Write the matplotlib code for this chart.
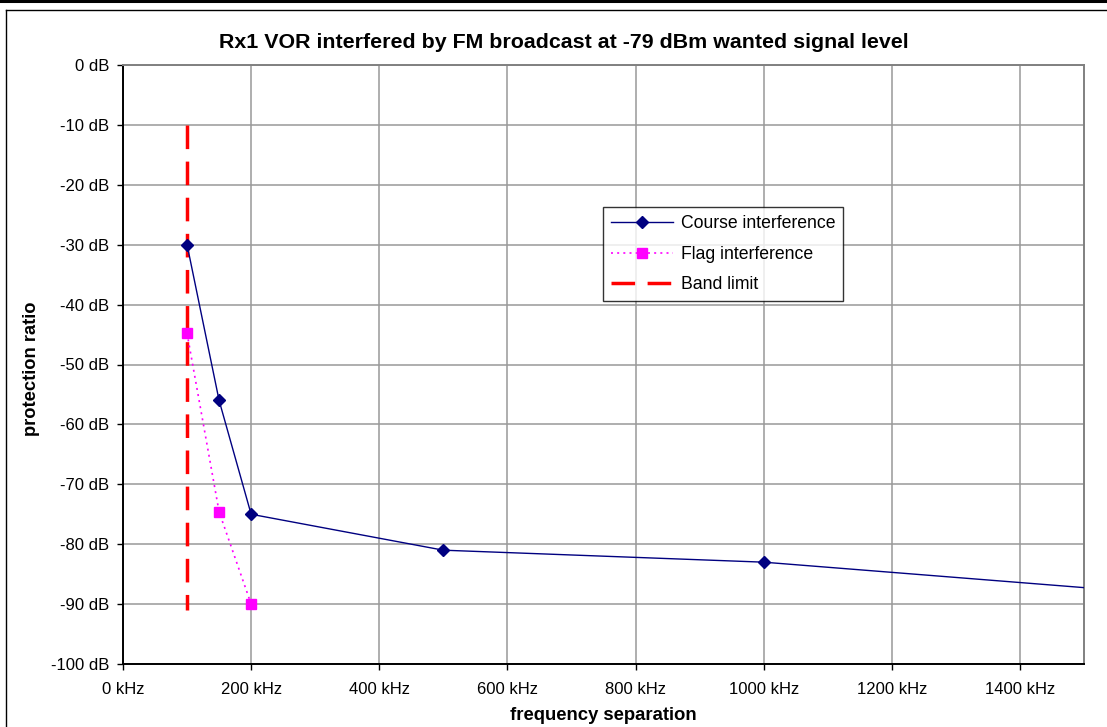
import matplotlib
matplotlib.use("Agg")
import matplotlib.pyplot as plt
from matplotlib.lines import Line2D

plt.rcParams['font.family'] = ['Liberation Sans', 'DejaVu Sans']

title = "Rx1 VOR interfered by FM broadcast at -79 dBm wanted signal level"
xlabel = "frequency separation"
ylabel = "protection ratio"

course_x = [100, 150, 200, 500, 1000, 2000]
course_y = [-30, -56, -75, -81, -83, -91.5]
flag_x = [100, 150, 200]
flag_y = [-44.8, -74.6, -90]
band_x = [100, 100]
band_y = [-10, -91]

x_ticks = [0, 200, 400, 600, 800, 1000, 1200, 1400]
x_ticklabels = ["0 kHz", "200 kHz", "400 kHz", "600 kHz", "800 kHz", "1000 kHz", "1200 kHz", "1400 kHz"]
y_ticks = [0, -10, -20, -30, -40, -50, -60, -70, -80, -90, -100]
y_ticklabels = ["0 dB", "-10 dB", "-20 dB", "-30 dB", "-40 dB", "-50 dB", "-60 dB", "-70 dB", "-80 dB", "-90 dB", "-100 dB"]

W, H = 1107, 727
fig = plt.figure(figsize=(W / 100, H / 100), dpi=100)
fig.patch.set_facecolor('white')

# outer frame decorations
fig.add_artist(Line2D([0, 1], [1 - 1.2 / H, 1 - 1.2 / H], color='black', lw=2.2, transform=fig.transFigure))
fig.add_artist(Line2D([5.5 / W, 1], [1 - 9.5 / H, 1 - 9.5 / H], color='black', lw=1.0, transform=fig.transFigure))
fig.add_artist(Line2D([5.5 / W, 5.5 / W], [0, 1 - 9.5 / H], color='black', lw=1.0, transform=fig.transFigure))

ax = fig.add_axes([123 / W, (H - 664) / H, (1084 - 123) / W, (664 - 65) / H])
ax.set_xlim(0, 1500)
ax.set_ylim(-100, 0)

ax.plot(band_x, band_y, color='#ff0000', lw=2.5, dashes=(6.8, 3.6), zorder=3, label='Band limit')
ax.plot(course_x, course_y, color='#000080', lw=1.0, marker='D', markersize=6.5,
        markerfacecolor='#000080', markeredgecolor='#000080', zorder=4, label='Course interference')
ax.plot(flag_x, flag_y, color='#ff00ff', lw=1.2, linestyle=(0, (1.2, 2.5)), marker='s', markersize=6.5,
        markerfacecolor='#ff00ff', markeredgecolor='#ff00ff', zorder=4, label='Flag interference')

ax.set_xticks(x_ticks)
ax.set_xticklabels(x_ticklabels)
ax.set_yticks(y_ticks)
ax.set_yticklabels(y_ticklabels)
ax.grid(True, color='#999999', lw=1.1, zorder=0)
ax.set_axisbelow(True)
ax.tick_params(axis='both', direction='out', length=4, width=1, colors='black', labelsize=12)
ax.tick_params(axis='x', pad=9)
ax.tick_params(axis='y', pad=6)

for s in ['left', 'bottom']:
    ax.spines[s].set_color('black')
    ax.spines[s].set_linewidth(1.4)
for s in ['top', 'right']:
    ax.spines[s].set_color('#808080')
    ax.spines[s].set_linewidth(1.4)

handles, labels = ax.get_legend_handles_labels()
order = [1, 2, 0]
leg = ax.legend([handles[i] for i in order], [labels[i] for i in order],
                loc='upper left', bbox_to_anchor=((603 - 123) / 961, (664 - 207) / 599),
                frameon=True, fancybox=False, shadow=False, fontsize=12.7,
                handlelength=3.5, handletextpad=0.45, borderpad=0.45, labelspacing=0.78,
                borderaxespad=0)
leg.get_frame().set_edgecolor('black')
leg.get_frame().set_linewidth(1.0)

fig.text(564 / W, 1 - 42 / H, title, ha='center', va='center', fontsize=15.4, fontweight='bold')
fig.text(603 / W, 1 - 716 / H, xlabel, ha='center', va='center', fontsize=13.3, fontweight='bold')
fig.text(31 / W, 1 - 369 / H, ylabel, ha='center', va='center', rotation=90, fontsize=13.2, fontweight='bold')

fig.savefig('out.png', dpi=100, facecolor='white')
